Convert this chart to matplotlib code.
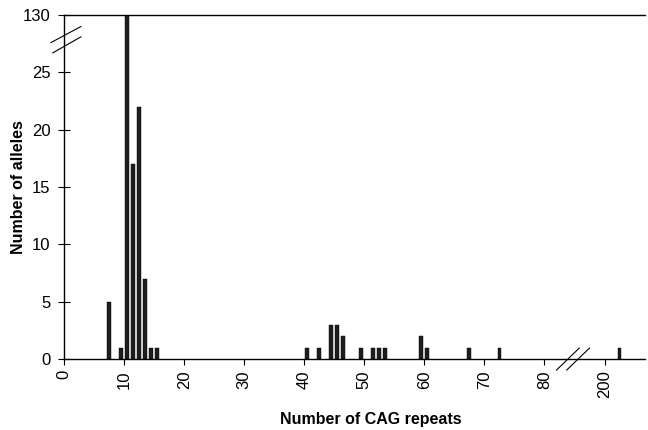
import numpy as np
import matplotlib.pyplot as plt

# CAG repeat lengths and allele counts
repeats = [7, 9, 10, 11, 12, 13, 14, 15,
           40, 42, 44, 45, 46, 49, 51, 52, 53, 59, 60, 67, 72, 202]
alleles = [5, 1, 130, 17, 22, 7, 1, 1,
           1, 1, 3, 3, 2, 1, 1, 1, 1, 2, 1, 1, 1, 1]

x_ticks = [0, 10, 20, 30, 40, 50, 60, 70, 80, 200]
y_ticks = [0, 5, 10, 15, 20, 25, 130]


def to_x(v):
    # broken x axis: 200 sits where 90 would be
    v = np.asarray(v)
    return np.where(v > 100, v - 110, v)


def to_y(v):
    # broken y axis: 130 sits where 30 would be
    v = np.asarray(v)
    return np.where(v > 100, v - 100, v)


plt.rcParams['font.family'] = ['Liberation Sans', 'DejaVu Sans']

fig = plt.figure(figsize=(6.48, 4.30), dpi=100)
ax = fig.add_axes([0.099, 0.165, 0.896, 0.800])

ax.bar(to_x(repeats) + 0.45, to_y(alleles), width=0.55,
       color='#1e1e1e', edgecolor='black', linewidth=0.3)

ax.set_xlim(0, 96.7)
ax.set_ylim(0, 30)
ax.set_xticks(to_x(x_ticks))
ax.set_xticklabels([str(t) for t in x_ticks], rotation=90, fontsize=12)
ax.set_yticks(to_y(y_ticks))
ax.set_yticklabels([str(t) for t in y_ticks], fontsize=12)

ax.tick_params(axis='y', direction='inout', length=8, width=0.8, pad=6)
ax.tick_params(axis='x', direction='out', length=4, width=0.8, pad=4)

ax.spines['right'].set_visible(False)
for s in ['left', 'bottom', 'top']:
    ax.spines[s].set_linewidth(1.0)
    ax.spines[s].set_color('black')

# break marks on the y axis
ax.plot([-2.2, 2.8], [27.6, 29.0], color='black', lw=0.8, clip_on=False)
ax.plot([-1.9, 2.8], [26.7, 28.1], color='black', lw=0.8, clip_on=False)

# break marks on the x axis
ax.plot([82.0, 85.8], [-0.96, 0.96], color='black', lw=0.8, clip_on=False)
ax.plot([83.7, 87.5], [-0.96, 0.96], color='black', lw=0.8, clip_on=False)

ax.set_xlabel('Number of CAG repeats', fontsize=11.5, fontweight='bold')
ax.set_ylabel('Number of alleles', fontsize=11.5, fontweight='bold')
ax.xaxis.set_label_coords(0.528, -0.155)
ax.yaxis.set_label_coords(-0.066, 0.5)

fig.savefig('out.png', dpi=100)
